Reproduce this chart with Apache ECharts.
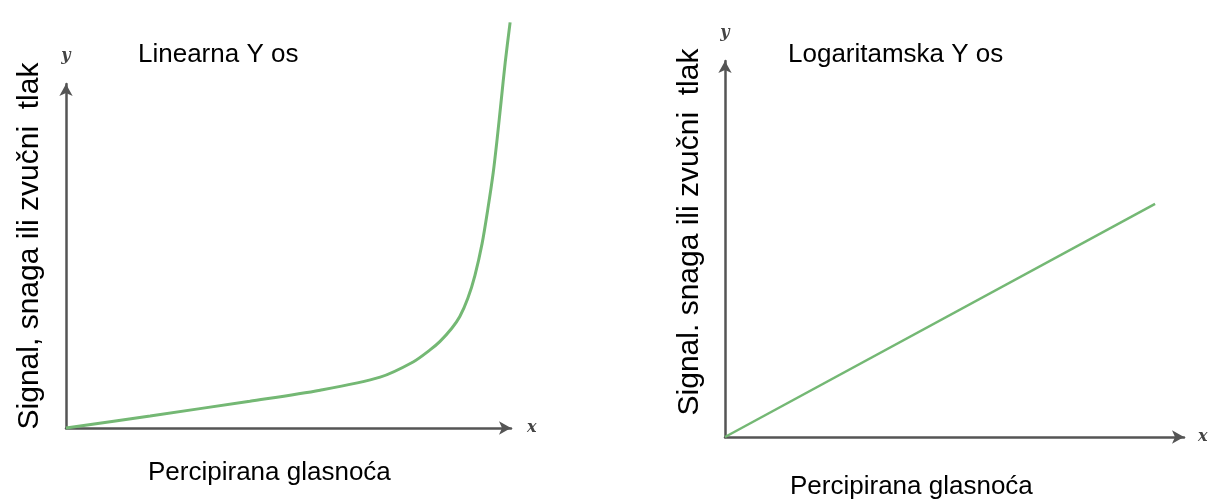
<!DOCTYPE html>
<html><head><meta charset="utf-8">
<script src="https://cdn.jsdelivr.net/npm/echarts@6/dist/echarts.min.js"></script>
<style>html,body{margin:0;padding:0;background:#fff;}#c{width:1212px;height:502px;}</style>
</head><body><div id="c"></div>
<script>
// Left panel: linear Y axis (perceived loudness vs signal)
const linX = [0, 18.9, 41.3, 57.1, 70.6, 78.0, 81.8, 84.0, 86.7, 88.5, 90.3, 91.9, 93.5, 94.8, 96.0, 96.9, 97.8, 98.7, 99.8];
const linY = [0, 3.5, 7.8, 11.0, 14.8, 19.2, 22.7, 25.1, 29.0, 32.4, 37.7, 44.4, 53.6, 63.7, 74.2, 84.2, 95.2, 106.3, 117.9];
// Right panel: logarithmic Y axis -> straight line
const logX = [0, 93.7];
const logY = [0, 62.0];

const titleLeft = 'Linearna Y os';
const titleRight = 'Logaritamska Y os';
const yLabelLeft = 'Signal, snaga ili zvučni  tlak';
const yLabelRight = 'Signal. snaga ili zvučni  tlak';
const xLabel = 'Percipirana glasnoća';

const chart = echarts.init(document.getElementById('c'));
const axisLine = {lineStyle:{color:'#555', width:2.5}, symbol:['none','arrow'], symbolSize:[10,12]};
const nameStyle = {fontFamily:'DejaVu Serif', fontStyle:'italic', fontWeight:'bold', fontSize:16, color:'#444'};
function xAx(grid, gap){ return {type:'value', gridIndex:grid, min:0, max:100, axisLine:axisLine, axisTick:{show:false}, axisLabel:{show:false}, splitLine:{show:false}, name:'x', nameLocation:'end', nameGap:gap, nameTextStyle:nameStyle}; }
function yAx(grid, gap){ return {type:'value', gridIndex:grid, min:0, max:100, axisLine:axisLine, axisTick:{show:false}, axisLabel:{show:false}, splitLine:{show:false}, name:'y', nameLocation:'end', nameGap:gap, nameTextStyle:nameStyle}; }
const txt = {fontFamily:'Liberation Sans', fontSize:26, fill:'#000'};
chart.setOption({
  animation:false,
  grid:[{left:66, top:84, width:445, height:344}, {left:725, top:61, width:459, height:376}],
  xAxis:[xAx(0,16), xAx(1,14)],
  yAxis:[yAx(0,20), yAx(1,20)],
  series:[
    {type:'line', xAxisIndex:0, yAxisIndex:0, data:linX.map((x,i)=>[x,linY[i]]), smooth:0.3, clip:false, symbol:'none', lineStyle:{color:'#74b874', width:3}},
    {type:'line', xAxisIndex:1, yAxisIndex:1, data:logX.map((x,i)=>[x,logY[i]]), clip:false, symbol:'none', lineStyle:{color:'#74b874', width:2.5}}
  ],
  graphic:[
    {type:'text', left:138, top:42, style:Object.assign({text:titleLeft}, txt)},
    {type:'text', left:788, top:42, style:Object.assign({text:titleRight}, txt)},
    {type:'text', left:148, top:460, style:Object.assign({text:xLabel}, txt)},
    {type:'text', left:790, top:474, style:Object.assign({text:xLabel}, txt)},
    {type:'text', x:30, y:246, rotation:Math.PI/2, style:Object.assign({text:yLabelLeft, align:'center', verticalAlign:'middle'}, txt, {fontSize:30})},
    {type:'text', x:690, y:232, rotation:Math.PI/2, style:Object.assign({text:yLabelRight, align:'center', verticalAlign:'middle'}, txt, {fontSize:30})}
  ]
});
</script></body></html>
